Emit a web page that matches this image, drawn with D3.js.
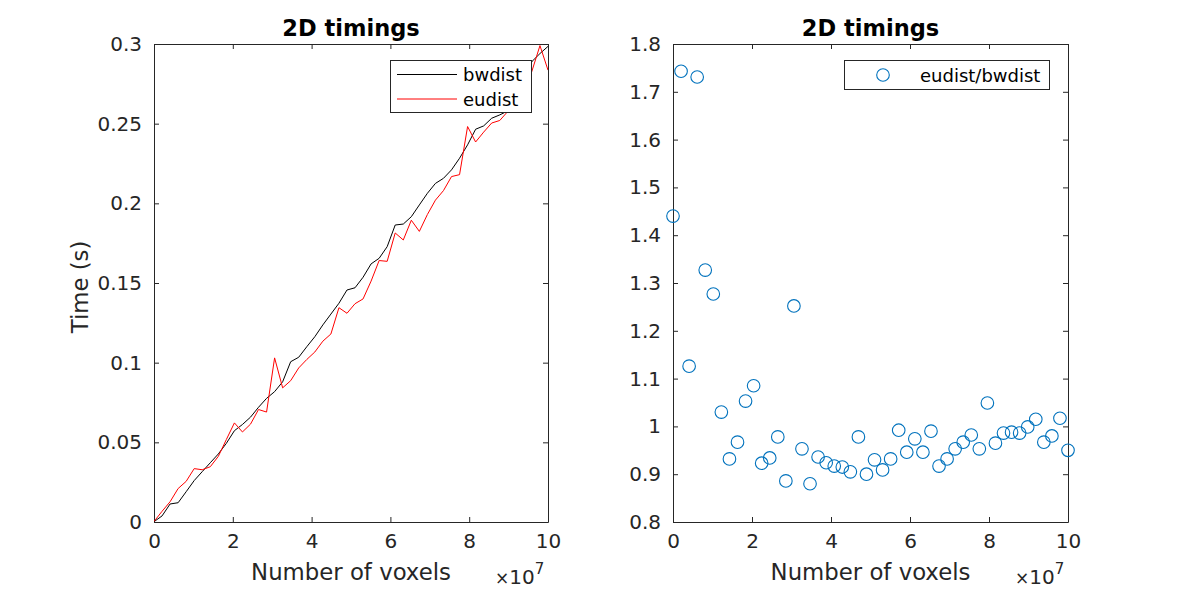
<!DOCTYPE html>
<html>
<head>
<meta charset="utf-8">
<script src="https://cdn.jsdelivr.net/npm/d3@7"></script>
<style>
  html, body { margin: 0; padding: 0; background: #fff; }
  svg { display: block; font-family: "DejaVu Sans", sans-serif; }
</style>
</head>
<body>
<svg id="chart" width="1181" height="591"></svg>
<script>
// Number of voxels (units of 1e7), 50 sample sizes
const voxels = [0.000,0.204,0.408,0.612,0.816,1.020,1.224,1.429,1.633,1.837,
  2.041,2.245,2.449,2.653,2.857,3.061,3.265,3.469,3.673,3.878,
  4.082,4.286,4.490,4.694,4.898,5.102,5.306,5.510,5.714,5.918,
  6.122,6.327,6.531,6.735,6.939,7.143,7.347,7.551,7.755,7.959,
  8.163,8.367,8.571,8.776,8.980,9.184,9.388,9.592,9.796,10.000];

// Time (s) for bwdist
const bwdist = [0.0002,0.0038,0.0113,0.0121,0.0190,0.0260,0.0316,0.0372,0.0427,0.0494,
  0.0573,0.0612,0.0658,0.0720,0.0776,0.0818,0.0880,0.1006,0.1034,0.1100,
  0.1163,0.1237,0.1305,0.1373,0.1456,0.1470,0.1536,0.1620,0.1655,0.1728,
  0.1864,0.1870,0.1916,0.1990,0.2063,0.2125,0.2157,0.2210,0.2283,0.2367,
  0.2465,0.2486,0.2534,0.2555,0.2580,0.2670,0.2780,0.2890,0.2940,0.2985];

// Time (s) for eudist
const eudist = [0.0003,0.0067,0.0127,0.0210,0.0255,0.0335,0.0328,0.0347,0.0412,0.0518,
  0.0622,0.0565,0.0614,0.0706,0.0690,0.1030,0.0842,0.0887,0.0967,0.1020,
  0.1067,0.1135,0.1180,0.1345,0.1310,0.1370,0.1400,0.1512,0.1641,0.1636,
  0.1814,0.1770,0.1894,0.1824,0.1930,0.2020,0.2080,0.2168,0.2180,0.2482,
  0.2385,0.2447,0.2504,0.2520,0.2577,0.2710,0.2690,0.2830,0.2990,0.2836];

// Ratio eudist/bwdist
const ratio = [1.440,1.743,1.126,1.731,1.327,1.277,1.030,0.932,0.967,1.053,
  1.085,0.923,0.934,0.978,0.886,1.252,0.953,0.880,0.936,0.924,
  0.917,0.915,0.905,0.978,0.900,0.930,0.909,0.932,0.992,0.946,
  0.974,0.946,0.990,0.917,0.932,0.953,0.967,0.982,0.953,1.049,
  0.965,0.986,0.988,0.986,0.999,1.015,0.967,0.980,1.017,0.950];

const xTicks = [0, 2, 4, 6, 8, 10];
const yTicksLeft = [0, 0.05, 0.1, 0.15, 0.2, 0.25, 0.3];
const yTicksRight = [0.8, 0.9, 1.0, 1.1, 1.2, 1.3, 1.4, 1.5, 1.6, 1.7, 1.8];

const titleText = "2D timings";
const xLabelText = "Number of voxels";
const yLabelLeft = "Time (s)";
const legendLeft = ["bwdist", "eudist"];
const legendRight = ["eudist/bwdist"];

const svg = d3.select("#chart");
const axisColor = "#262626";
const plotTop = 44, plotBottom = 522;

function drawAxes(x0, x1, yDomain, yTicks, yFmt) {
  const g = svg.append("g");
  const x = d3.scaleLinear().domain([0, 10]).range([x0, x1]);
  const y = d3.scaleLinear().domain(yDomain).range([plotBottom, plotTop]);
  const tl = 5;
  const bAx = d3.axisBottom(x).tickValues(xTicks).tickSizeInner(-tl).tickSizeOuter(0).tickPadding(12).tickFormat(d3.format("d"));
  const gb = g.append("g").attr("transform", `translate(0,${plotBottom})`).call(bAx);
  const tAx = d3.axisTop(x).tickValues(xTicks).tickSizeInner(-tl).tickSizeOuter(0).tickFormat("");
  const gt = g.append("g").attr("transform", `translate(0,${plotTop})`).call(tAx);
  const lAx = d3.axisLeft(y).tickValues(yTicks).tickSizeInner(-tl).tickSizeOuter(0).tickPadding(12).tickFormat(yFmt);
  const gl = g.append("g").attr("transform", `translate(${x0},0)`).call(lAx);
  const rAx = d3.axisRight(y).tickValues(yTicks).tickSizeInner(-tl).tickSizeOuter(0).tickFormat("");
  const gr = g.append("g").attr("transform", `translate(${x1},0)`).call(rAx);
  [gb, gt, gl, gr].forEach(a => {
    a.selectAll("path.domain").attr("stroke", axisColor).attr("stroke-width", 1);
    a.selectAll(".tick line").attr("stroke", axisColor).attr("stroke-width", 1);
    a.selectAll(".tick text").attr("fill", axisColor).attr("font-size", 20)
      .attr("font-family", "DejaVu Sans, sans-serif");
  });
  svg.append("text").attr("x", (x0 + x1) / 2).attr("y", 36)
    .attr("text-anchor", "middle").attr("font-size", 22.5).attr("font-weight", "bold")
    .attr("fill", "#000").text(titleText);
  svg.append("text").attr("x", (x0 + x1) / 2).attr("y", 580)
    .attr("text-anchor", "middle").attr("font-size", 22.8).attr("fill", axisColor).text(xLabelText);
  const ex = svg.append("text").attr("x", x1 - 53).attr("y", 584).attr("fill", axisColor).attr("font-size", 20);
  ex.append("tspan").attr("font-size", 17).text("×");
  ex.append("tspan").text("10");
  ex.append("tspan").attr("font-size", 15).attr("dy", -10).text("7");
  return { x, y, g };
}

// Left plot
const L = drawAxes(154, 548, [0, 0.3], yTicksLeft, d => d === 0 ? "0" : String(d));
svg.append("clipPath").attr("id", "clipL").append("rect")
  .attr("x", 154).attr("y", plotTop).attr("width", 394).attr("height", plotBottom - plotTop);
const lineGen = (vals) => d3.line().x((d, i) => L.x(voxels[i])).y(d => L.y(d))(vals);
svg.append("path").attr("d", lineGen(bwdist)).attr("fill", "none").attr("stroke", "#000").attr("stroke-width", 1).attr("clip-path", "url(#clipL)");
svg.append("path").attr("d", lineGen(eudist)).attr("fill", "none").attr("stroke", "#ff0000").attr("stroke-width", 1).attr("clip-path", "url(#clipL)");

svg.append("text").attr("transform", "translate(88,287) rotate(-90)")
  .attr("text-anchor", "middle").attr("font-size", 22.8).attr("fill", axisColor).text(yLabelLeft);

// Left legend
const lg = svg.append("g");
lg.append("rect").attr("x", 390.5).attr("y", 60.5).attr("width", 141).attr("height", 52)
  .attr("fill", "#fff").attr("stroke", axisColor).attr("stroke-width", 1);
const legColors = ["#000", "#ff0000"];
legendLeft.forEach((t, i) => {
  const yy = 74.5 + i * 24.5;
  lg.append("line").attr("x1", 397).attr("x2", 457).attr("y1", yy).attr("y2", yy)
    .attr("stroke", legColors[i]).attr("stroke-width", 1);
  lg.append("text").attr("x", 463).attr("y", yy + 6.5).attr("font-size", 18).attr("fill", "#000").text(t);
});

// Right plot
const R = drawAxes(673, 1068, [0.8, 1.8], yTicksRight, d => d === 1 ? "1" : d3.format(".1f")(d));
svg.append("g").selectAll("circle").data(ratio).join("circle")
  .attr("cx", (d, i) => R.x(voxels[i])).attr("cy", d => R.y(d)).attr("r", 6.3)
  .attr("fill", "none").attr("stroke", "#0072BD").attr("stroke-width", 1.1);

// Right legend
const rg = svg.append("g");
rg.append("rect").attr("x", 844.5).attr("y", 60.5).attr("width", 205).attr("height", 29)
  .attr("fill", "#fff").attr("stroke", axisColor).attr("stroke-width", 1);
rg.append("circle").attr("cx", 883).attr("cy", 75).attr("r", 6.3)
  .attr("fill", "none").attr("stroke", "#0072BD").attr("stroke-width", 1.1);
rg.append("text").attr("x", 920).attr("y", 81.5).attr("font-size", 18).attr("fill", "#000").text(legendRight[0]);
</script>
</body>
</html>
